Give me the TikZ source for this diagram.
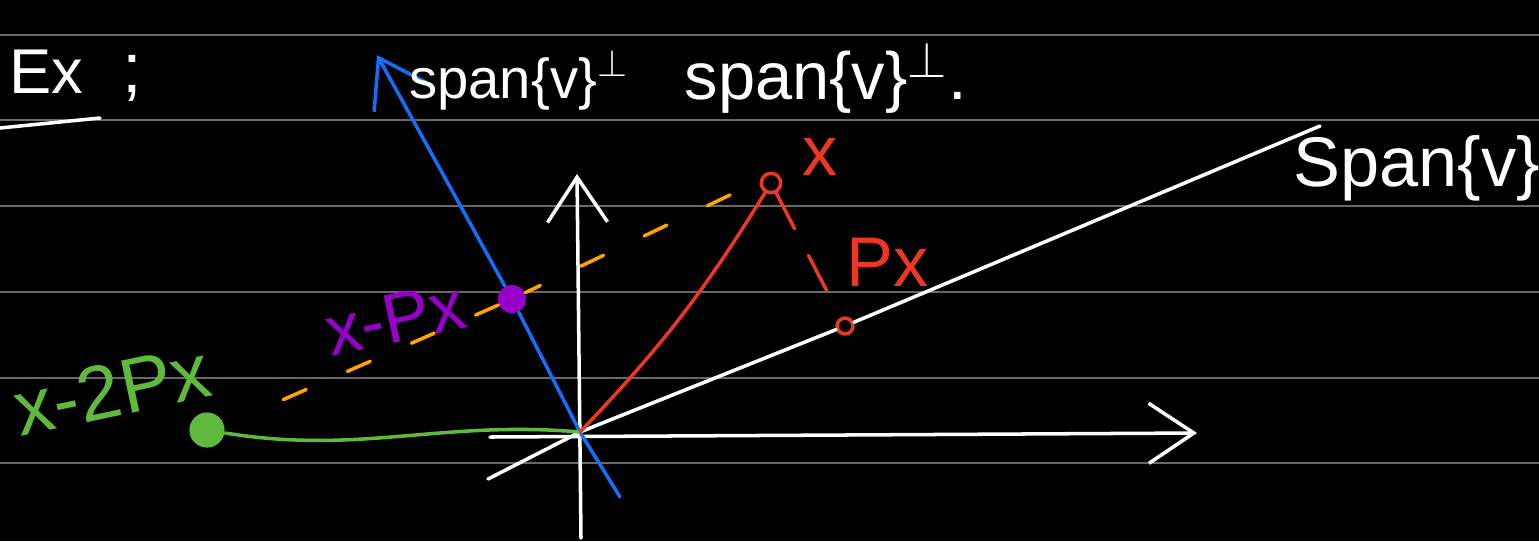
\documentclass[tikz,border=0pt]{standalone}
\usepackage{fontspec}
\setmainfont{Liberation Sans}
\usetikzlibrary{arrows.meta}
\definecolor{penblue}{RGB}{20,110,250}
\definecolor{penred}{RGB}{235,55,35}
\definecolor{penorange}{RGB}{255,165,0}
\definecolor{penpurple}{RGB}{150,0,200}
\definecolor{pengreen}{RGB}{95,185,60}
\definecolor{rulegray}{RGB}{105,105,105}
\tikzset{
  pen/.style={line width=1pt, line cap=round, line join=round},
  ruleline/.style={rulegray, line width=0.6pt},
  hand/.style={inner sep=0pt, font=\fontsize{20}{24}\selectfont},
}

\begin{document}
\begin{tikzpicture}[x=0.01cm, y=-0.01cm, >={Straight Barb[length=4.5mm,width=6mm]}]
    % Page
    \fill[black] (0,0) rectangle (1539,541);
    \useasboundingbox (0,0) rectangle (1539,541);
    \foreach \r in {35,120,206,292,378,463}
        \draw[ruleline] (0,\r) -- (1539,\r);

    % Points
    \coordinate (O) at (580,432);
    \coordinate (vb) at (581,538);
    \coordinate (vt) at (577,174);
    \coordinate (hl) at (490,437);
    \coordinate (hr) at (1197,433);
    \coordinate (sl) at (488,479);
    \coordinate (sr) at (1320,126);
    \coordinate (bb) at (620,497);
    \coordinate (bt) at (377,55);
    \coordinate (oa) at (730,195);
    \coordinate (ob) at (255,412);
    \coordinate (ul) at (0,128);
    \coordinate (ur) at (100,118);
    \node[draw=penred, pen, circle, minimum size=5.5pt, inner sep=0pt] (x) at (771,183) {};
    \node[draw=penred, pen, circle, minimum size=4.5pt, inner sep=0pt] (px) at (845,326) {};
    \node[fill=penpurple, circle, minimum size=8pt, inner sep=0pt] (m) at (512,299) {};
    \node[fill=pengreen, circle, minimum size=10pt, inner sep=0pt] (g) at (207,430) {};

    % Axes and lines
    \draw[white, pen, ->] (vb) -- (vt);
    \draw[white, pen, ->] (hl) -- (hr);
    \draw[white, pen] (sl) -- (O) -- (px) -- (sr);
    \draw[penblue, pen, ->] (bb) -- (O) -- (m) -- (bt);
    \draw[pengreen, pen] (g) .. controls (360,455) and (440,420) .. (O);
    \draw[penred, pen] (O) to[bend right=6] (x);
    \draw[penred, pen, dash pattern=on 4mm off 3mm] (x) -- (px);
    \draw[penorange, pen, dash pattern=on 2.5mm off 4.5mm] (oa) -- (m) -- (ob);
    \draw[white, pen] (ul) -- (ur);

    % Labels
    \node[hand, white, anchor=east, font=\fontsize{18}{22}\selectfont] (ex) at (84,72) {Ex};
    \node[hand, white] (semi) at (132,78) {;};
    \node[hand, white, font=\fontsize{16}{19}\selectfont] (lperpa) at (519,80) {span\{v\}$^{\perp}$};
    \node[hand, white, font=\fontsize{19}{22}\selectfont] (lperpb) at (826,78) {span\{v\}$^{\perp}$.};
    \node[hand, white, anchor=west] (lspan) at (1293,168) {Span\{v\}};
    \node[hand, penred] (lx) at (820,157) {x};
    \node[hand, penred] (lpx) at (888,262) {Px};
    \node[hand, penpurple, rotate=12] (lm) at (395,318) {x-Px};
    \node[hand, pengreen, rotate=12, font=\fontsize{22}{26}\selectfont] (lg) at (112,390) {x-2Px};
\end{tikzpicture}
\end{document}
